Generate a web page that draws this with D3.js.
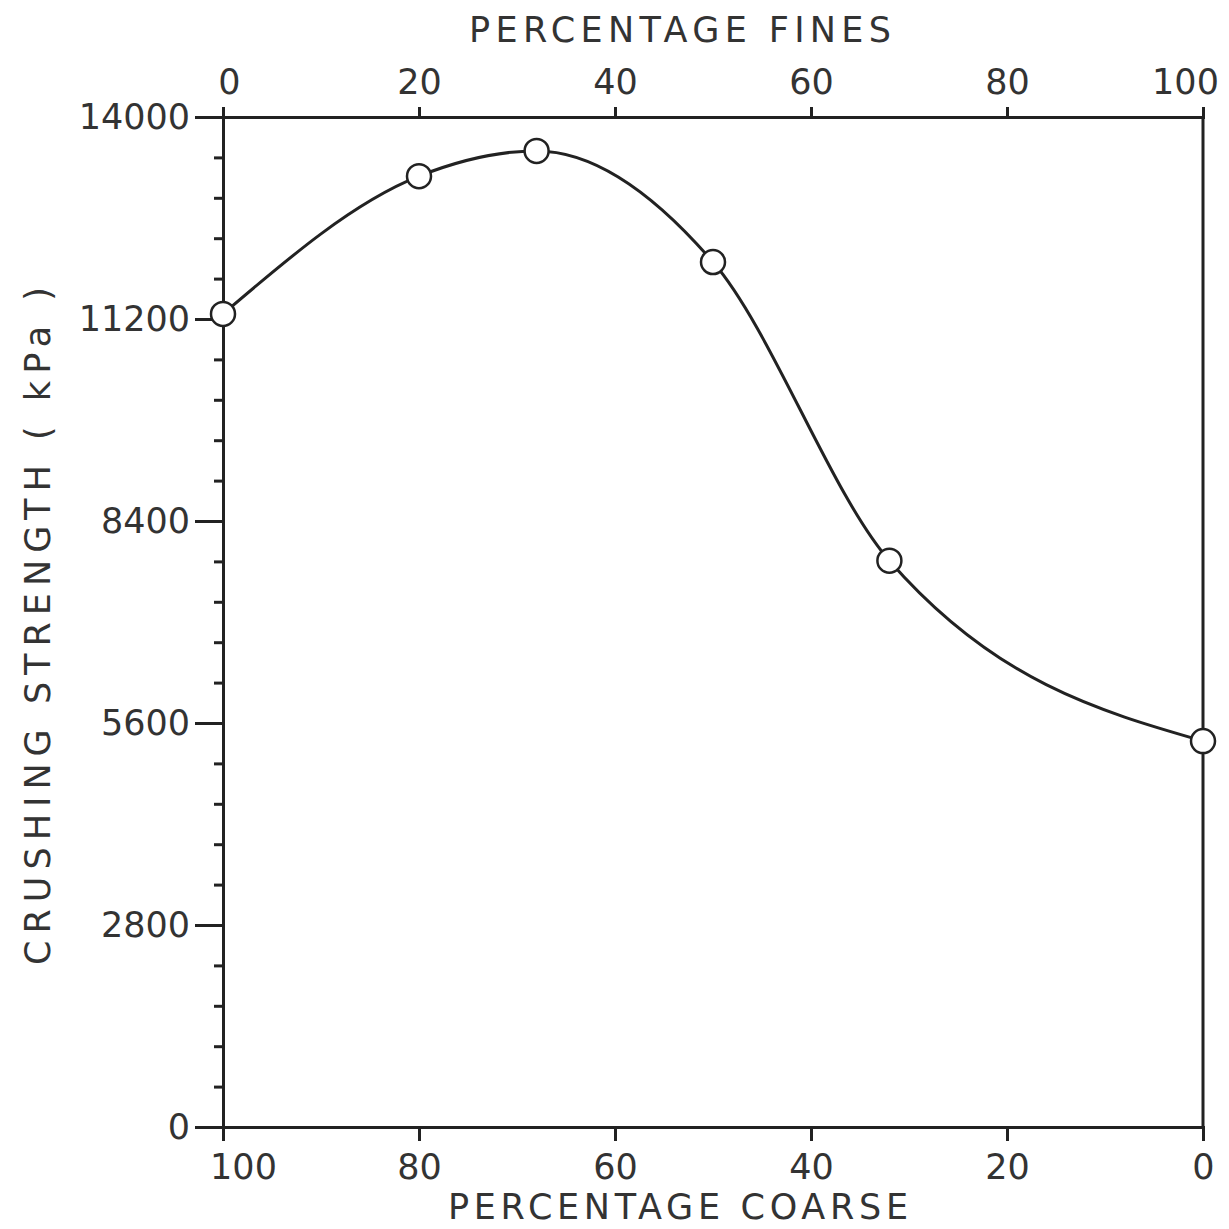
<!DOCTYPE html>
<html>
<head>
<meta charset="utf-8">
<script src="https://cdn.jsdelivr.net/npm/d3@7"></script>
<style>
 body { margin: 0; background: #fff; }
 text { font-family: "DejaVu Sans", sans-serif; fill: #333; }
</style>
</head>
<body>
<div id="chart"></div>
<script>
// data
var fines = [0, 20, 32, 50, 68, 100];
var strength = [11270, 13180, 13530, 11990, 7850, 5350];
var yMajor = [0, 2800, 5600, 8400, 11200, 14000];
var yMinor = d3.range(0, 14001, 560);
var topTicks = [0, 20, 40, 60, 80, 100];
var bottomTicks = [100, 80, 60, 40, 20, 0];

var W = 1229, H = 1229;
var margin = {top: 117, right: 26, bottom: 102, left: 223},
  width = W - margin.left - margin.right,
  height = H - margin.top - margin.bottom;

var svg = d3.select("#chart")
 .append("svg")
 .attr("width", W)
 .attr("height", H)
 .append("g")
 .attr("transform", "translate(" + margin.left + "," + margin.top + ")");

var xTop = d3.scaleLinear().domain([0, 100]).range([0, width]);
var xBot = d3.scaleLinear().domain([100, 0]).range([0, width]);
var y = d3.scaleLinear().domain([0, 14000]).range([height, 0]);

function styleAxis(g) {
 g.select(".domain").attr("stroke", "#222").attr("stroke-width", 3);
 g.selectAll(".tick line").attr("stroke", "#222").attr("stroke-width", 3);
 g.selectAll("text").style("font-size", "35px").attr("fill", "#333");
}

// minor ticks on y
svg.append("g")
 .call(d3.axisLeft(y).tickValues(yMinor).tickSize(9).tickFormat(""))
 .call(styleAxis);

// major y ticks + labels
svg.append("g")
 .call(d3.axisLeft(y).tickValues(yMajor).tickSize(28).tickPadding(5).tickFormat(d3.format("d")))
 .call(styleAxis);

// top axis (percentage fines)
svg.append("g")
 .call(d3.axisTop(xTop).tickValues(topTicks).tickSize(10).tickPadding(13))
 .call(styleAxis)
 .selectAll(".tick text")
 .attr("dx", function(d) { return d === 100 ? -18 : (d === 0 ? 6 : 0); });

// bottom axis (percentage coarse)
svg.append("g")
 .attr("transform", "translate(0," + height + ")")
 .call(d3.axisBottom(xBot).tickValues(bottomTicks).tickSize(14).tickPadding(13))
 .call(styleAxis)
 .selectAll(".tick text")
 .attr("dx", function(d) { return d === 100 ? 20 : 0; });

// right frame
svg.append("line")
 .attr("x1", xTop(100)).attr("x2", xTop(100))
 .attr("y1", y(0)).attr("y2", y(14000))
 .attr("stroke", "#222").attr("stroke-width", 3);

// curve
var line = d3.line()
 .x(function(d) { return xTop(d[0]); })
 .y(function(d) { return y(d[1]); })
 .curve(d3.curveMonotoneX);

var pts = fines.map(function(f, i) { return [f, strength[i]]; });

svg.append("path")
 .datum(pts)
 .attr("d", line)
 .attr("fill", "none")
 .attr("stroke", "#222")
 .attr("stroke-width", 3);

svg.selectAll("circle.pt")
 .data(pts)
 .enter()
 .append("circle")
 .attr("class", "pt")
 .attr("cx", function(d) { return xTop(d[0]); })
 .attr("cy", function(d) { return y(d[1]); })
 .attr("r", 12)
 .attr("fill", "#fff")
 .attr("stroke", "#222")
 .attr("stroke-width", 2.5);

// axis titles
var root = d3.select("svg");
root.append("text")
 .attr("x", 680).attr("y", 42)
 .attr("text-anchor", "middle")
 .attr("textLength", 422).attr("lengthAdjust", "spacing")
 .style("font-size", "35px")
 .text("PERCENTAGE FINES");

root.append("text")
 .attr("x", 678).attr("y", 1219)
 .attr("text-anchor", "middle")
 .attr("textLength", 460).attr("lengthAdjust", "spacing")
 .style("font-size", "35px")
 .text("PERCENTAGE COARSE");

root.append("text")
 .attr("transform", "translate(50,626) rotate(-90)")
 .attr("text-anchor", "middle")
 .attr("textLength", 678).attr("lengthAdjust", "spacing")
 .style("font-size", "35px")
 .text("CRUSHING STRENGTH ( kPa )");
</script>
</body>
</html>
